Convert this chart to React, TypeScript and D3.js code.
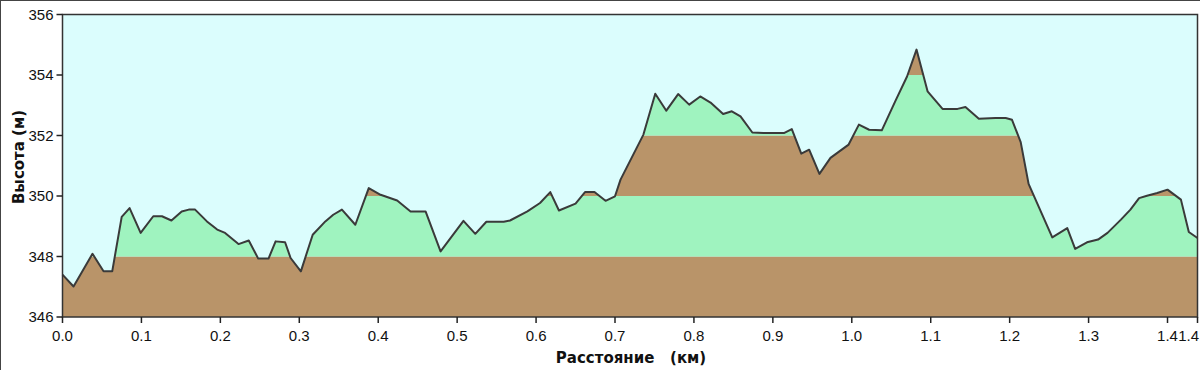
import React from "react";
import * as d3 from "d3";

const distanceKm: number[] = [
  0.0, 0.014, 0.038, 0.052, 0.063, 0.075, 0.085, 0.099, 0.115, 0.126, 0.138, 0.151, 0.16, 0.168,
  0.183, 0.196, 0.206, 0.223, 0.236, 0.248, 0.261, 0.27, 0.282, 0.289, 0.302, 0.317, 0.333, 0.343,
  0.354, 0.371, 0.388, 0.403, 0.424, 0.441, 0.46, 0.479, 0.508, 0.523, 0.537, 0.559, 0.567, 0.589,
  0.605, 0.618, 0.629, 0.65, 0.662, 0.674, 0.688, 0.7, 0.707, 0.736, 0.751, 0.765, 0.78, 0.794,
  0.808, 0.821, 0.837, 0.848, 0.859, 0.874, 0.888, 0.914, 0.924, 0.936, 0.946, 0.959, 0.973, 0.986,
  0.996, 1.009, 1.022, 1.038, 1.055, 1.07, 1.082, 1.096, 1.115, 1.134, 1.144, 1.161, 1.182, 1.195,
  1.203, 1.214, 1.224, 1.254, 1.273, 1.283, 1.298, 1.312, 1.324, 1.341, 1.353, 1.364, 1.374, 1.387,
  1.4, 1.417, 1.427, 1.438,
];

const elevationM: number[] = [
  347.4, 347.01, 348.09, 347.51, 347.51, 349.31, 349.6, 348.78, 349.33, 349.33, 349.19, 349.49, 349.55, 349.55,
  349.16, 348.89, 348.78, 348.41, 348.53, 347.93, 347.93, 348.5, 348.47, 347.95, 347.51, 348.72, 349.16, 349.38,
  349.55, 349.05, 350.26, 350.04, 349.85, 349.49, 349.49, 348.17, 349.18, 348.75, 349.15, 349.15, 349.19, 349.49,
  349.77, 350.13, 349.52, 349.75, 350.13, 350.13, 349.84, 349.99, 350.54, 352.03, 353.38, 352.82, 353.37, 353.02,
  353.29, 353.09, 352.71, 352.8, 352.63, 352.1, 352.08, 352.08, 352.21, 351.4, 351.53, 350.73, 351.26, 351.51,
  351.7, 352.36, 352.19, 352.17, 353.13, 353.95, 354.84, 353.46, 352.88, 352.88, 352.94, 352.55, 352.58, 352.58,
  352.52, 351.78, 350.4, 348.63, 348.94, 348.25, 348.47, 348.56, 348.78, 349.22, 349.55, 349.93, 350.01, 350.1,
  350.21, 349.88, 348.81, 348.61,
];

const xTickValues: number[] = [0, 0.1, 0.2, 0.3, 0.4, 0.5, 0.6, 0.7, 0.8, 0.9, 1.0, 1.1, 1.2, 1.3, 1.4, 1.438];
const yTickValues: number[] = [346, 348, 350, 352, 354, 356];
const bandEdges: number[] = [346, 348, 350, 352, 354, 356];
const bandColors: string[] = ["#b99469", "#9ff3bf", "#b99469", "#9ff3bf", "#b99469"];
const xTitle = "Расстояние   (км)";
const yTitle = "Высота (м)";

const W = 1200;
const H = 370;
const left = 62.5;
const right = 1197.5;
const top = 14.5;
const bottom = 317;

export default function App() {
  const x = d3.scaleLinear().domain([0, 1.438]).range([left, right]);
  const y = d3.scaleLinear().domain([346, 356]).range([bottom, top]);
  const pts: [number, number][] = distanceKm.map((d, i) => [d, elevationM[i]]);
  const area = d3
    .area<[number, number]>()
    .x((d) => x(d[0]))
    .y0(bottom)
    .y1((d) => y(d[1]));
  const line = d3
    .line<[number, number]>()
    .x((d) => x(d[0]))
    .y((d) => y(d[1]));
  const lastIdx = xTickValues.length - 1;

  return (
    <svg
      width={W}
      height={H}
      style={{ position: "absolute", left: 0, top: 0, background: "#fff" }}
    >
      <defs>
        <clipPath id="underLine">
          <path d={area(pts) || ""} />
        </clipPath>
      </defs>
      <rect x={0.5} y={0.5} width={W} height={H} fill="#fff" stroke="#444" strokeWidth={1} />
      <rect x={left} y={top} width={right - left} height={bottom - top} fill="#dbfdfd" />
      <g clipPath="url(#underLine)">
        {bandColors.map((c, i) => (
          <rect
            key={i}
            x={left}
            width={right - left}
            y={y(bandEdges[i + 1])}
            height={y(bandEdges[i]) - y(bandEdges[i + 1])}
            fill={c}
          />
        ))}
      </g>
      <path d={line(pts) || ""} fill="none" stroke="#3a3a3a" strokeWidth={2} strokeLinejoin="round" />
      <rect
        x={left}
        y={top}
        width={right - left}
        height={bottom - top}
        fill="none"
        stroke="#333"
        strokeWidth={1.5}
      />
      {yTickValues.map((v) => (
        <g key={"y" + v}>
          <line x1={left - 6} x2={left} y1={y(v)} y2={y(v)} stroke="#222" strokeWidth={1.5} />
          <text
            x={left - 9}
            y={y(v) + 5}
            textAnchor="end"
            fontFamily="'Liberation Sans', Arial, sans-serif"
            fontSize={15}
            fill="#111"
          >
            {v}
          </text>
        </g>
      ))}
      {xTickValues.map((v, i) => (
        <g key={"x" + i}>
          <line x1={x(v)} x2={x(v)} y1={bottom} y2={bottom + 6} stroke="#222" strokeWidth={1.5} />
          <text
            x={i === lastIdx ? W - 1 : x(v)}
            y={341}
            textAnchor={i === lastIdx ? "end" : "middle"}
            fontFamily="'Liberation Sans', Arial, sans-serif"
            fontSize={15}
            fill="#111"
          >
            {v.toFixed(1)}
          </text>
        </g>
      ))}
      <text
        x={631}
        y={363}
        textAnchor="middle"
        fontFamily="'DejaVu Sans', sans-serif"
        fontWeight="bold"
        fontSize={15}
        fill="#111"
        style={{ whiteSpace: "pre" }}
      >
        {xTitle}
      </text>
      <text
        transform="translate(24,157) rotate(-90)"
        textAnchor="middle"
        fontFamily="'DejaVu Sans', sans-serif"
        fontWeight="bold"
        fontSize={15}
        fill="#111"
      >
        {yTitle}
      </text>
    </svg>
  );
}
